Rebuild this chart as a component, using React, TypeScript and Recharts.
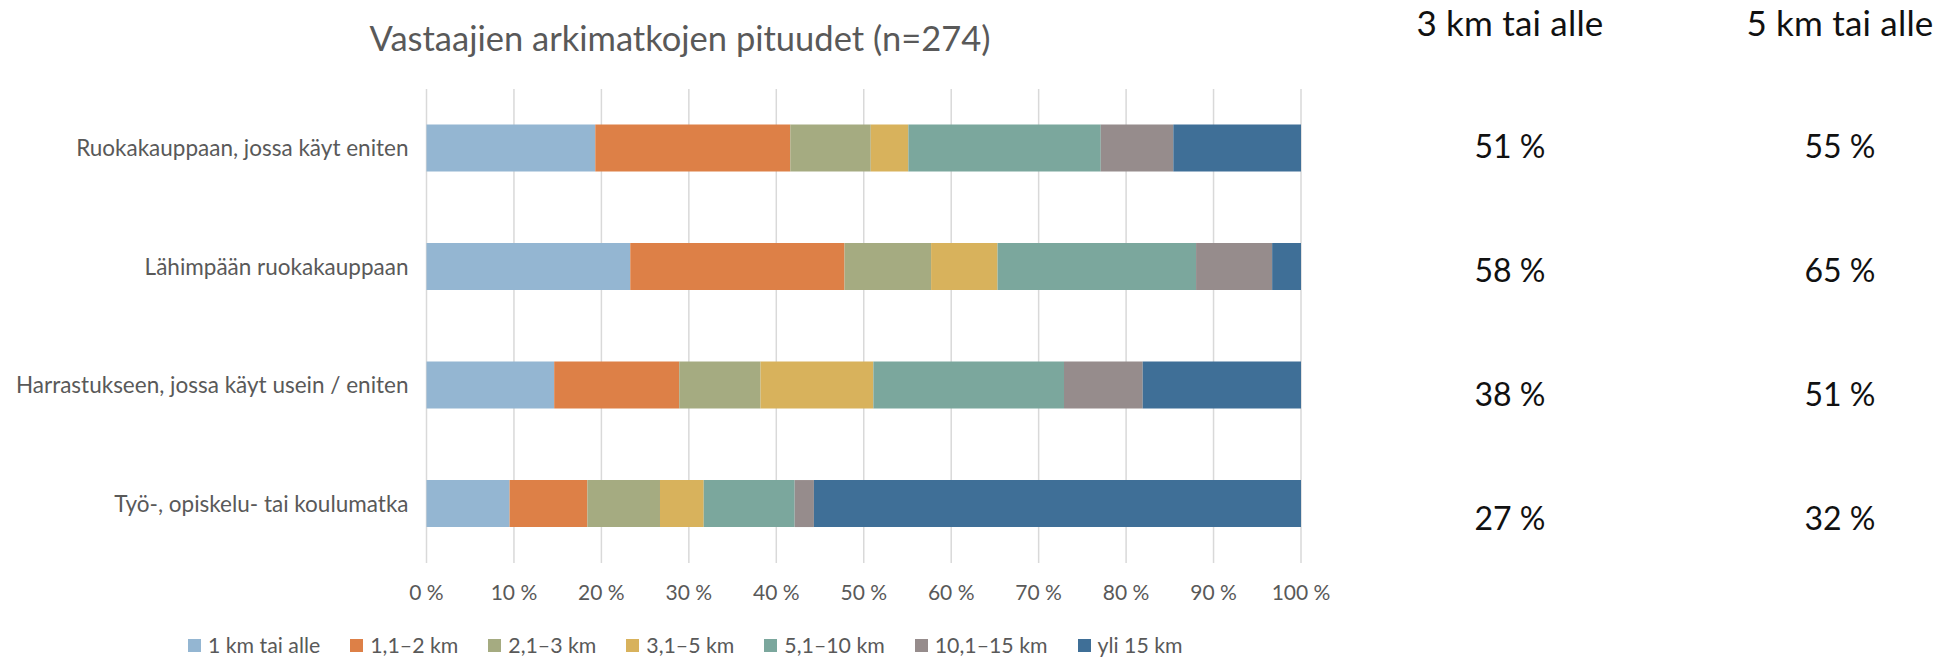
import React from "react";
import { BarChart, Bar, XAxis, YAxis, CartesianGrid } from "recharts";

const categories = [
  "Ruokakauppaan, jossa käyt eniten",
  "Lähimpään ruokakauppaan",
  "Harrastukseen, jossa käyt usein / eniten",
  "Työ-, opiskelu- tai koulumatka",
];

const seriesNames = [
  "1 km tai alle",
  "1,1–2 km",
  "2,1–3 km",
  "3,1–5 km",
  "5,1–10 km",
  "10,1–15 km",
  "yli 15 km",
];

const km1 = [19.3, 23.3, 14.6, 9.5];
const km2 = [22.3, 24.5, 14.3, 8.9];
const km3 = [9.2, 9.9, 9.3, 8.3];
const km5 = [4.3, 7.6, 12.9, 5.0];
const km10 = [22.0, 22.7, 21.8, 10.4];
const km15 = [8.3, 8.7, 9.0, 2.2];
const kmOver15 = [14.6, 3.3, 18.1, 55.7];

const share3km = [51, 58, 38, 27];
const share5km = [55, 65, 51, 32];

const xTicks = [0, 10, 20, 30, 40, 50, 60, 70, 80, 90, 100];

const colors = ["#94B6D2", "#DD8047", "#A5AB81", "#D8B25C", "#7BA79D", "#968C8C", "#3F6F97"];

const seriesValues = [km1, km2, km3, km5, km10, km15, kmOver15];
const keys = ["s1", "s2", "s3", "s4", "s5", "s6", "s7"];

const data = categories.map((name, i) => {
  const row: Record<string, any> = { name };
  keys.forEach((k, j) => {
    row[k] = seriesValues[j][i];
  });
  return row;
});

const FONT = "Lato, 'Open Sans', sans-serif";

export default function App() {
  return (
    <div
      style={{
        position: "absolute",
        left: 0,
        top: 0,
        width: 1939,
        height: 659,
        background: "#fff",
        overflow: "hidden",
        fontFamily: FONT,
      }}
    >
      <div
        style={{
          position: "absolute",
          left: 330,
          width: 700,
          top: 16,
          textAlign: "center",
          fontSize: 34.5,
          color: "#595959",
          lineHeight: "44px",
          whiteSpace: "nowrap",
        }}
      >
        Vastaajien arkimatkojen pituudet (n=274)
      </div>

      <div style={{ position: "absolute", left: 0, top: 0 }}>
        <BarChart
          width={1360}
          height={659}
          data={data}
          layout="vertical"
          margin={{ top: 89, right: 59, bottom: 66, left: 0 }}
          barCategoryGap="30%"
        >
          <CartesianGrid horizontal={false} stroke="#D9D9D9" strokeWidth={1.5} />
          <XAxis
            type="number"
            domain={[0, 100]}
            ticks={xTicks}
            tickFormatter={(v) => `${v} %`}
            axisLine={false}
            tickLine={false}
            height={30}
            tickMargin={16}
            tick={{ fill: "#595959", fontSize: 21, fontFamily: FONT }}
            interval={0}
          />
          <YAxis
            type="category"
            dataKey="name"
            width={426.5}
            axisLine={false}
            tickLine={false}
            tickMargin={12}
            tick={{ fill: "#595959", fontSize: 22.5, fontFamily: FONT }}
            interval={0}
          />
          {keys.map((k, j) => (
            <Bar
              key={k}
              dataKey={k}
              name={seriesNames[j]}
              stackId="a"
              fill={colors[j]}
              isAnimationActive={false}
            />
          ))}
        </BarChart>
      </div>

      <div
        style={{
          position: "absolute",
          left: 188,
          top: 630,
          height: 30,
          display: "flex",
          alignItems: "center",
          fontSize: 21.3,
          color: "#595959",
          whiteSpace: "nowrap",
        }}
      >
        {seriesNames.map((n, i) => (
          <div key={n} style={{ display: "flex", alignItems: "center", marginRight: 30 }}>
            <div style={{ width: 13, height: 13, background: colors[i], marginRight: 7 }} />
            <span>{n}</span>
          </div>
        ))}
      </div>

      {[
        { title: "3 km tai alle", values: share3km, cx: 1510 },
        { title: "5 km tai alle", values: share5km, cx: 1840 },
      ].map((col) => (
        <div key={col.title}>
          <div
            style={{
              position: "absolute",
              left: col.cx - 150,
              width: 300,
              top: 0,
              height: 44,
              lineHeight: "44px",
              textAlign: "center",
              fontSize: 35,
              color: "#111",
              whiteSpace: "nowrap",
              letterSpacing: 0.2,
            }}
          >
            {col.title}
          </div>
          {col.values.map((v, i) => (
            <div
              key={i}
              style={{
                position: "absolute",
                left: col.cx - 100,
                width: 200,
                top: 124 + i * 124,
                height: 44,
                lineHeight: "44px",
                textAlign: "center",
                fontSize: 32,
                color: "#111",
              }}
            >
              {`${v} %`}
            </div>
          ))}
        </div>
      ))}
    </div>
  );
}
